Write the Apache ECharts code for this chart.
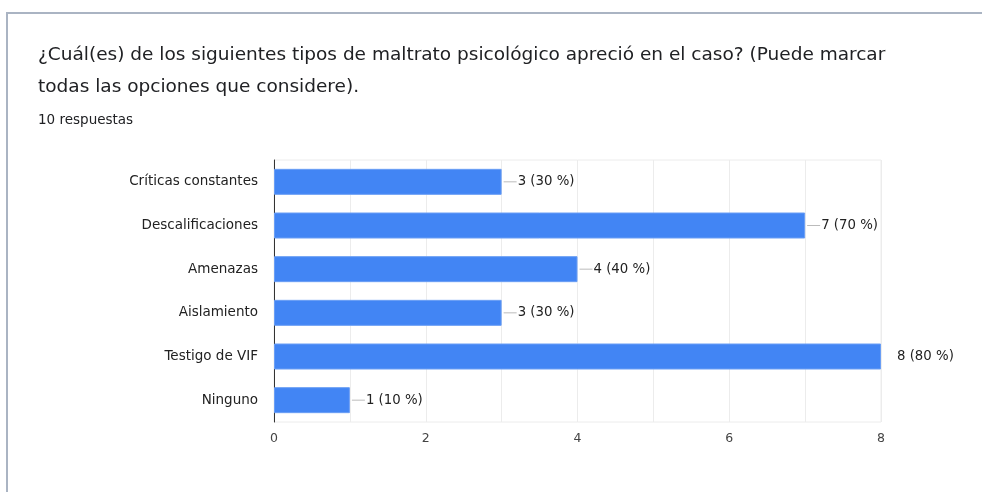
<!DOCTYPE html>
<html>
<head>
<meta charset="utf-8">
<script src="https://cdn.jsdelivr.net/npm/echarts@6/dist/echarts.min.js"></script>
<style>
  html, body { margin: 0; padding: 0; background: #fff; }
  #main { width: 982px; height: 492px; }
</style>
</head>
<body>
<div id="main"></div>
<script>
const categories = ['Críticas constantes', 'Descalificaciones', 'Amenazas', 'Aislamiento', 'Testigo de VIF', 'Ninguno']
const counts = [3, 7, 4, 3, 8, 1]
const percents = [30, 70, 40, 30, 80, 10]
const xTicks = [0, 2, 4, 6, 8]
const totalResponses = 10

const chart = echarts.init(document.getElementById('main'))
const maxVal = Math.max(...counts)

const option = {
    animation: false,
    textStyle: { fontFamily: 'DejaVu Sans, sans-serif' },
    graphic: [
        // marco de la tarjeta
        { type: 'rect', shape: { x: 6, y: 12, width: 990, height: 2 }, style: { fill: '#aab4c3' } },
        { type: 'rect', shape: { x: 6, y: 12, width: 2, height: 490 }, style: { fill: '#aab4c3' } },
        {
            type: 'text', left: 38, top: 39,
            style: {
                text: '¿Cuál(es) de los siguientes tipos de maltrato psicológico apreció en el caso? (Puede marcar\ntodas las opciones que considere).',
                fill: '#202124', font: '18.5px "DejaVu Sans", sans-serif', lineHeight: 32
            }
        },
        {
            type: 'text', left: 38, top: 113,
            style: { text: totalResponses + ' respuestas', fill: '#202124', font: '13.5px "DejaVu Sans", sans-serif' }
        }
    ],
    grid: {
        left: 274, right: 101, top: 160, bottom: 70,
        show: true, borderColor: '#ececec', borderWidth: 1
    },
    xAxis: {
        type: 'value',
        min: 0, max: 8, interval: 1,
        axisLine: { show: false },
        axisTick: { show: false },
        splitLine: { lineStyle: { color: '#ececec' } },
        axisLabel: {
            color: '#444', fontSize: 12.5, margin: 10,
            formatter: (v) => (xTicks.indexOf(v) >= 0 ? String(v) : '')
        }
    },
    yAxis: {
        type: 'category',
        inverse: true,
        data: categories,
        axisTick: { show: false },
        axisLine: { lineStyle: { color: '#333', width: 1 } },
        axisLabel: { color: '#222', fontSize: 13.5, margin: 16 }
    },
    series: [
        {
            type: 'bar',
            barWidth: 26,
            itemStyle: { color: '#4285f4', borderColor: '#6a9ef5', borderWidth: 1 },
            data: counts.map((v, i) => ({
                value: v,
                label: {
                    formatter: '{l|}{t|' + v + ' (' + percents[i] + ' %)}',
                    rich: {
                        l: { width: 13, height: 1, backgroundColor: v === maxVal ? 'transparent' : '#bbbbbb' },
                        t: { color: '#222', fontSize: 13.3, padding: [0, 0, 0, 1] }
                    }
                }
            })),
            label: { show: true, position: 'right', distance: 2 }
        }
    ]
}
chart.setOption(option)
</script>
</body>
</html>
